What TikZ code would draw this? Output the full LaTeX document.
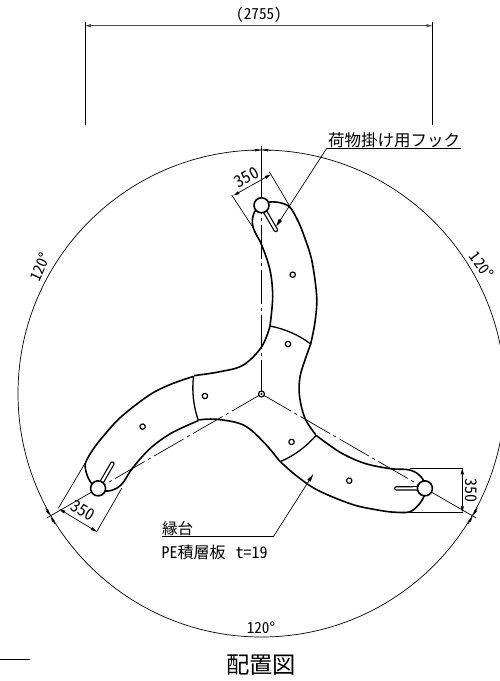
\documentclass[tikz,border=0pt]{standalone}
\usepackage{fontspec}
\usetikzlibrary{arrows.meta}
\newfontfamily\jp{Noto Sans CJK JP}
\newfontfamily\hw[CharacterWidth=Half]{Noto Sans CJK JP}
\tikzset{
  thin line/.style={line width=0.7pt,black},
  bold line/.style={line width=1.6pt,black},
  dim arrows/.style={thin line,{Stealth[length=6pt,width=3pt,inset=0pt]}-{Stealth[length=6pt,width=3pt,inset=0pt]}},
  leader arrow/.style={thin line,-{Stealth[length=8pt,width=3.5pt,inset=0pt]}},
  centre line/.style={thin line,dash pattern=on 34pt off 4pt on 3pt off 4pt},
  label/.style={inner sep=0pt,outer sep=0pt,anchor=center},
}
\def\armoutline{
  plot[smooth,tension=.55] coordinates {(270,326) (272.7,296.7) (270,270) (261.7,245) (254.5,231) (252.3,222) (254.5,212) (262,204) (270,202) (280,202.7) (289.7,207) (297,219) (303,233) (311.7,260) (316.7,296.7) (315,322) (310.7,344)}
}
\def\onearm{
  \draw[bold line] \armoutline;
  \draw[line width=1.3pt] (270,326) .. controls (285,329) and (299,335) .. (310.7,344);
  \draw[line width=1.2pt,fill=white] (292.7,274.7) circle (2.7pt);
  \draw[line width=1.2pt,fill=white] (288,344) circle (2.7pt);
  % centre line: dashed from centre to the hook, solid beyond
  \draw[centre line] (261.5,394) -- (261.5,205);
  \draw[thin line] (261.5,205) -- (261.5,146);
  % hook slot
  \draw[line width=4.6pt,line cap=round,black] (265,211.4) -- (275.8,230);
  \draw[line width=2.2pt,line cap=round,white] (265,211.4) -- (275.8,230);
  \draw[bold line,fill=white] (261.5,205.3) circle (7.5pt);
  % angle arrows
  \draw[thin line,-{Stealth[length=6pt,width=2.5pt,inset=0pt]}] (252,150.2) -- (261,150);
  \draw[thin line,-{Stealth[length=6pt,width=2.5pt,inset=0pt]}] (271,150.2) -- (262,150);
}
\begin{document}
\begin{tikzpicture}[x=1pt,y=-1pt]
\useasboundingbox (0,0) rectangle (500,681);
\fill[white] (0,0) rectangle (500,681);
\begin{scope}
\clip (0,0) rectangle (500,681);
\draw[thin line] (261.5,393.5) circle (243.5pt);
\end{scope}
\coordinate (c) at (261.5,394);
\onearm
\begin{scope}[rotate around={-120:(c)}]\onearm\end{scope}
\begin{scope}[rotate around={120:(c)}]\onearm\end{scope}
% concave edges between the arms
\draw[bold line] plot[smooth,tension=.6] coordinates {(310.7,344) (305,360) (300,377) (299.5,396) (305,418.3) (315.7,434.6)};
\draw[bold line] plot[smooth,tension=.6] coordinates {(270,326) (261.7,346.7) (243.3,365) (220,371.7) (194,375.6)};
\draw[bold line] plot[smooth,tension=.6] coordinates {(198.8,419.9) (216.7,419.3) (243.3,425) (263.3,441.7) (279.8,461.4)};
\draw[line width=1.2pt,fill=white] (c) circle (3pt);
\fill (c) circle (1.2pt);
% 350 dimensions
\draw[thin line] (253.3,228) -- (231.7,195);
\draw[thin line] (290,206.7) -- (269.3,171.7);
\draw[dim arrows] (233.5,195.5) -- (270.7,174.5);
\draw[thin line] (410,468.3) -- (463,468.3);
\draw[thin line] (410,512.3) -- (463,512.3);
\draw[dim arrows] (462.3,468.3) -- (462.3,512.3);
\draw[thin line] (85,463.3) -- (58.3,508.3);
\draw[thin line] (121.7,488.3) -- (96.7,531.7);
\draw[dim arrows] (59.3,509) -- (96.7,531.7);
% overall dimension
\draw[thin line] (85,22) -- (85,125);
\draw[thin line] (432.5,22) -- (432.5,125);
\draw[dim arrows,line width=0.9pt,black!70] (85,25.7) -- (432.5,25.7);
\node[label,font=\hw\fontsize{15.2}{15.2}\selectfont] (dimtop) at (259,15) {(2755)};
% hook label
\node[label,font=\jp\fontsize{16.5}{16.5}\selectfont,anchor=south west] (hook) at (328,147.5) {荷物掛け用フック};
\draw[thin line] (326.7,148.3) -- (461,148.3);
\coordinate (hooktip) at (276,226.7);
\draw[leader arrow] (326.7,148.3) -- (hooktip);
% base label
\node[label,font=\jp\fontsize{15.5}{15.5}\selectfont,anchor=south west] (base) at (162,536) {縁台};
\draw[thin line] (161.7,536.7) -- (273.3,536.7);
\coordinate (basetip) at (313.3,474);
\draw[leader arrow] (273.3,536.7) -- (basetip);
\node[label,font=\hw\fontsize{16}{16}\selectfont,anchor=west] (pe) at (161.5,552) {PE{\jp 積層板}\hspace{10pt}t=19};
% 350 labels
\node[label,font=\hw\fontsize{16.5}{16.5}\selectfont,rotate=29] (d1) at (246.7,177.3) {350};
\node[label,font=\hw\fontsize{16}{16}\selectfont,rotate=-90] (d2) at (471.7,490) {350};
\node[label,font=\hw\fontsize{16.5}{16.5}\selectfont,rotate=-30] (d3) at (83.3,510.7) {350};
% angle labels
\node[label,font=\hw\fontsize{15.2}{15.2}\selectfont] (a1) at (261,627.5) {120°};
\node[label,font=\hw\fontsize{15.2}{15.2}\selectfont,rotate=65] (a2) at (40,266.7) {120°};
\node[label,font=\hw\fontsize{15.2}{15.2}\selectfont,rotate=-54] (a3) at (481.7,265) {120°};
% title
\node[label,font=\jp\fontsize{23.3}{23.3}\selectfont] (title) at (261,665) {配置図};
\draw[thin line] (0,659) -- (30,659);
\end{tikzpicture}
\end{document}
